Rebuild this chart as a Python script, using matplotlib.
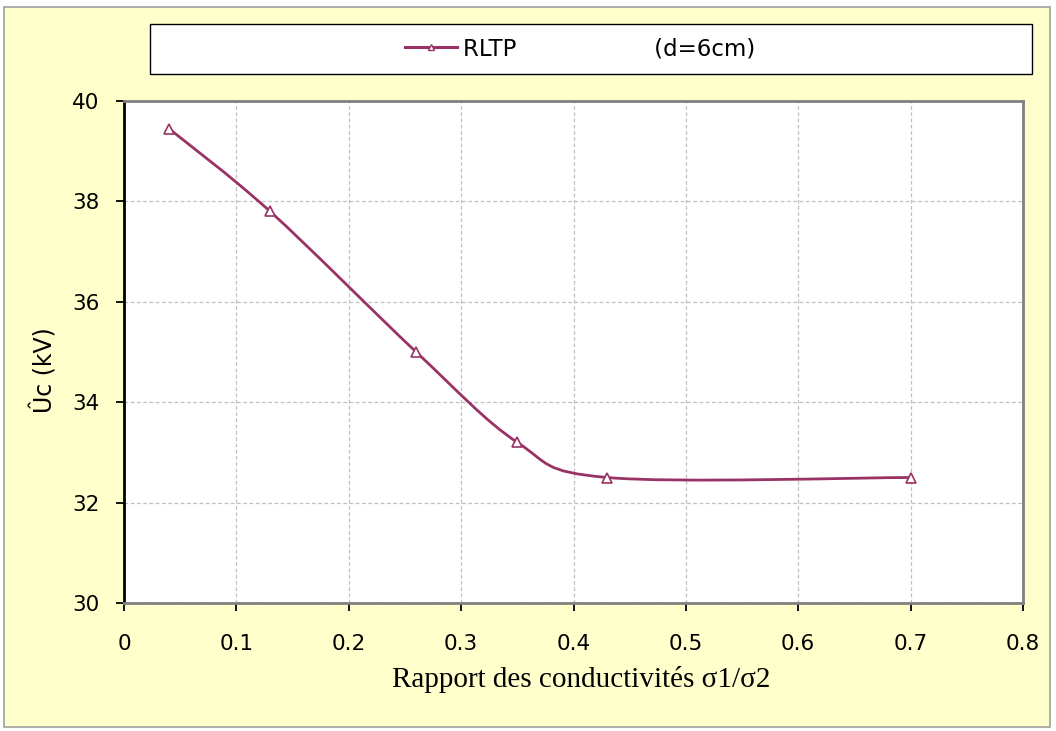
import numpy as np
import matplotlib
matplotlib.use("Agg")
import matplotlib.pyplot as plt
from matplotlib.path import Path
from matplotlib.patches import PathPatch, Rectangle
from matplotlib.lines import Line2D

# Data
ratio = [0.04, 0.13, 0.26, 0.35, 0.43, 0.70]
uc = [39.45, 37.8, 35.0, 33.2, 32.5, 32.5]
series_label = "RLTP" + " " * 19 + "(d=6cm)"
x_label = "Rapport des conductivités σ1/σ2"
y_label = "Ûc (kV)"
x_ticks = [0, 0.1, 0.2, 0.3, 0.4, 0.5, 0.6, 0.7, 0.8]
x_ticklabels = ["0", "0.1", "0.2", "0.3", "0.4", "0.5", "0.6", "0.7", "0.8"]
y_ticks = [30, 32, 34, 36, 38, 40]

color = "#993366"

fig = plt.figure(figsize=(10.56, 7.31), dpi=100)
fig.patch.set_facecolor("white")
# outer chart area
fig.patches.append(Rectangle((4/1056, 4/731), 1046/1056, 720/731, transform=fig.transFigure,
                             facecolor="#FFFFCC", edgecolor="#A0A0A0", linewidth=1.2, zorder=-10))
# legend box
fig.patches.append(Rectangle((150/1056, 1 - 74/731), 882/1056, 50/731, transform=fig.transFigure,
                             facecolor="white", edgecolor="black", linewidth=1.0, zorder=-5))

ax = fig.add_axes([124/1056, 1 - 603/731, (1023-124)/1056, (603-101)/731])
ax.set_facecolor("white")
ax.set_xlim(0, 0.8)
ax.set_ylim(30, 40)
ax.set_xticks(x_ticks)
ax.set_xticklabels(x_ticklabels)
ax.set_yticks(y_ticks)
ax.grid(True, color="#C0C0C0", linestyle=(0, (3, 2)), linewidth=0.9)
ax.set_axisbelow(True)
for s in ["top", "right", "bottom"]:
    ax.spines[s].set_color("#808080")
    ax.spines[s].set_linewidth(2)
ax.spines["left"].set_color("black")
ax.spines["left"].set_linewidth(2)
ax.tick_params(direction="out", length=5.5, width=1.3, color="black", labelsize=15.5)
ax.tick_params(axis="x", pad=17)
ax.tick_params(axis="y", pad=12)

# smoothed line (Catmull-Rom converted to cubic Bezier)
P = np.column_stack([ratio, uc])
ext = np.vstack([P[0], P, P[-1]])
verts = [tuple(P[0])]
codes = [Path.MOVETO]
for i in range(len(P) - 1):
    p0, p1, p2, p3 = ext[i], ext[i+1], ext[i+2], ext[i+3]
    c1 = p1 + (p2 - p0) / 6
    c2 = p2 - (p3 - p1) / 6
    verts += [tuple(c1), tuple(c2), tuple(p2)]
    codes += [Path.CURVE4] * 3
ax.add_patch(PathPatch(Path(verts, codes), facecolor="none", edgecolor=color, linewidth=2.0, zorder=3))
ax.plot(ratio, uc, linestyle="none", marker="^", markersize=7.5, markerfacecolor="white",
        markeredgecolor=color, markeredgewidth=1.2, zorder=4)

ax.set_xlabel(x_label, fontfamily="Liberation Serif", fontsize=21)
ax.xaxis.set_label_coords((581 - 124) / 899, (603 - 666) / 502)
ax.set_ylabel(y_label, fontsize=17)
ax.yaxis.set_label_coords((58 - 124) / 899, (603 - 370) / 502)

handle = Line2D([], [], color=color, linewidth=2.2, marker="^", markersize=5,
                markerfacecolor="white", markeredgecolor=color)
fig.legend([handle], [series_label], loc="center", bbox_to_anchor=(580/1056, 1 - 49/731),
           frameon=False, fontsize=16.5, handlelength=2.3, handletextpad=0.26)

fig.savefig("out.png", dpi=100, facecolor=fig.get_facecolor())
